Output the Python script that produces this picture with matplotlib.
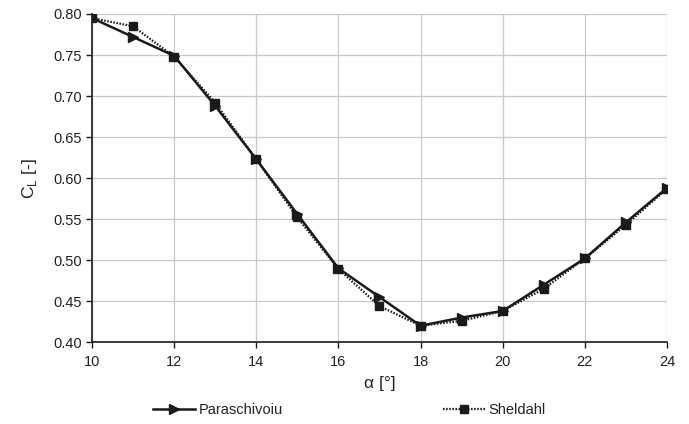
import matplotlib
matplotlib.use('Agg')
import matplotlib.pyplot as plt

plt.rcParams['font.family'] = ['Liberation Sans', 'DejaVu Sans']
plt.rcParams['mathtext.fontset'] = 'custom'
plt.rcParams['mathtext.rm'] = 'Liberation Sans'

# angle of attack [deg]
alpha = [10, 11, 12, 13, 14, 15, 16, 17, 18, 19, 20, 21, 22, 23, 24]
cl_paraschivoiu = [0.795, 0.772, 0.749, 0.688, 0.623, 0.556, 0.490, 0.455,
                   0.420, 0.430, 0.438, 0.470, 0.502, 0.546, 0.588]
cl_sheldahl = [0.795, 0.785, 0.748, 0.692, 0.623, 0.552, 0.489, 0.444,
               0.420, 0.426, 0.438, 0.465, 0.502, 0.543, 0.587]

xticks = [10, 12, 14, 16, 18, 20, 22, 24]
yticks = [0.40, 0.45, 0.50, 0.55, 0.60, 0.65, 0.70, 0.75, 0.80]

fig = plt.figure(figsize=(6.89, 4.24), dpi=100)
ax = fig.add_axes([0.1335, 0.193, 0.8345, 0.774])

ax.plot(alpha, cl_paraschivoiu, color='#1a1a1a', lw=1.8, marker='>',
        markersize=6.5, label='Paraschivoiu', zorder=3)
ax.plot(alpha, cl_sheldahl, color='#1a1a1a', lw=1.6, ls=(0, (0.7, 0.7)),
        marker='s', markersize=6, label='Sheldahl', zorder=4)

ax.set_xlim(10, 24)
ax.set_ylim(0.40, 0.80)
ax.set_xticks(xticks)
ax.set_yticks(yticks)
ax.set_yticklabels([f'{v:.2f}' for v in yticks])
ax.grid(True, color='#c8c8c8', lw=0.9)
ax.set_axisbelow(True)

for s in ['top', 'right']:
    ax.spines[s].set_visible(False)
for s in ['left', 'bottom']:
    ax.spines[s].set_color('#1a1a1a')
    ax.spines[s].set_linewidth(1.2)
ax.tick_params(direction='out', length=4, width=1, color='#1a1a1a',
               labelsize=10.5, labelcolor='#222222')
ax.tick_params(axis='x', pad=5)

ax.set_xlabel('α [°]', fontsize=12.5, color='#222222', labelpad=5)
ax.set_ylabel('C$_\\mathrm{L}$ [-]', fontsize=12.5, color='#222222', labelpad=10)

fig.legend(loc='center', bbox_to_anchor=(0.507, 0.033), ncol=2, frameon=False,
           fontsize=10.5, columnspacing=11, handlelength=2.9, handletextpad=0.2,
           labelcolor='#222222')

fig.savefig('out.png', dpi=100)
